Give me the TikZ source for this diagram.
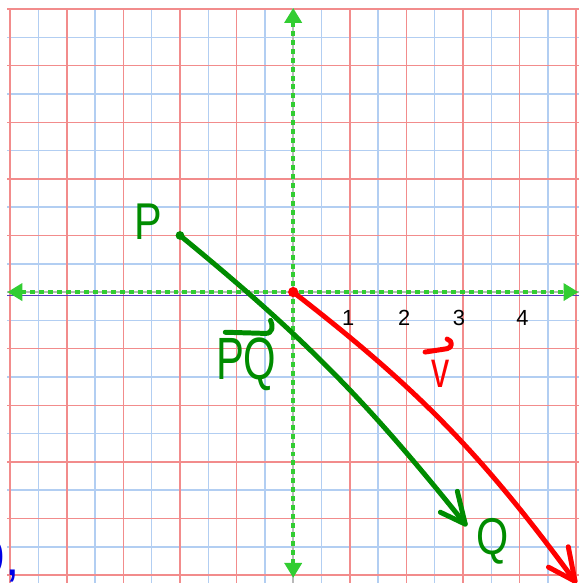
\documentclass[tikz,border=0pt]{standalone}
\usepackage{fontspec}
\setmainfont{Liberation Sans}
\usetikzlibrary{arrows.meta}
\definecolor{gridred}{RGB}{242,140,140}
\definecolor{gridblue}{RGB}{178,206,242}
\definecolor{axisgreen}{RGB}{50,205,50}
\definecolor{axisgray}{RGB}{185,185,185}
\definecolor{axispurple}{RGB}{90,60,190}
\definecolor{penGreen}{RGB}{0,140,0}
\definecolor{penBlue}{RGB}{0,0,230}
\begin{document}
\begin{tikzpicture}[
  minorline/.style={gridblue,line width=0.75pt},
  majorline/.style={gridred,line width=0.75pt},
  axisbase/.style={axisgray,line width=1pt},
  axisdash/.style={axisgreen,line width=2pt,dash pattern=on 2.5pt off 2pt,
    {Triangle[length=7.5pt,width=8.5pt]}-{Triangle[length=7.5pt,width=8.5pt]}},
  pen/.style={line width=2.5pt,line cap=round,line join=round},
  hand/.style={font=\fontsize{26}{26}\selectfont},
  ticklabel/.style={font=\fontsize{11}{11}\selectfont}
]
  \useasboundingbox (-5.18,-5.14) rectangle (5.04,5.16);

  % Graph paper: blue half steps, red unit steps
  \foreach \k in {-4.5,-3.5,...,4.5} {
    \draw[minorline] (\k,-5.2) -- (\k,5.02);
    \draw[minorline] (-5.05,\k) -- (5.1,\k);
  }
  \foreach \k in {-5,...,5} {
    \draw[majorline] (\k,-5.2) -- (\k,5.02);
    \draw[majorline] (-5.05,\k) -- (5.1,\k);
  }

  % Axes
  \draw[axisbase] (-5.05,0) -- (5.1,0);
  \draw[axisbase] (0,-5.2) -- (0,5.02);
  \draw[axispurple,line width=0.5pt] (-5.05,-0.055) -- (5.1,-0.055);
  \draw[axisdash] (-5.05,0) -- (5.04,0);
  \draw[axisdash] (0,-5.05) -- (0,5.02);

  % Tick labels
  \node[ticklabel] (tick1) at (0.97,-0.46) {1};
  \node[ticklabel] (tick2) at (1.96,-0.46) {2};
  \node[ticklabel] (tick3) at (2.93,-0.46) {3};
  \node[ticklabel] (tick4) at (4.05,-0.46) {4};

  % Points
  \coordinate (O) at (0,0);
  \coordinate (P) at (-2,1);
  \coordinate (Q) at (3.04,-4.1);
  \coordinate (V) at (4.98,-5.11);

  % Vector v from the origin
  \draw[pen,red] (O) to[bend left=8] (V);
  \draw[pen,red] (4.51,-4.86) -- (V) -- (4.86,-4.5);
  \fill[red] (O) circle (2.6pt);

  % Vector PQ
  \draw[pen,penGreen] (P) to[bend left=6] (Q);
  \draw[pen,penGreen] (2.6,-3.89) -- (Q) -- (2.9,-3.52);
  \fill[penGreen] (P) circle (2.2pt);

  % Labels
  \node[hand,penGreen,xscale=0.8] (lblP) at (-2.56,1.24) {P};
  \node[hand,penGreen,xscale=0.8] (lblQ) at (3.52,-4.4) {Q};
  \node[hand,penGreen,font=\fontsize{30}{30}\selectfont,xscale=0.7] (lblPQ) at (-0.83,-1.27) {PQ};
  \draw[pen,penGreen] (-1.2,-0.71) -- (-0.5,-0.73)
    .. controls (-0.36,-0.74) and (-0.35,-0.6) .. (-0.4,-0.5);
  \node[hand,red,xscale=0.7] (lblV) at (2.6,-1.45) {v};
  \draw[pen,red] (2.33,-1.06) -- (2.72,-1.0)
    .. controls (2.82,-0.98) and (2.82,-0.86) .. (2.72,-0.83);
  \node[hand,penBlue,anchor=base east] (lblNine) at (-4.7,-5.0) {9,};
\end{tikzpicture}
\end{document}
